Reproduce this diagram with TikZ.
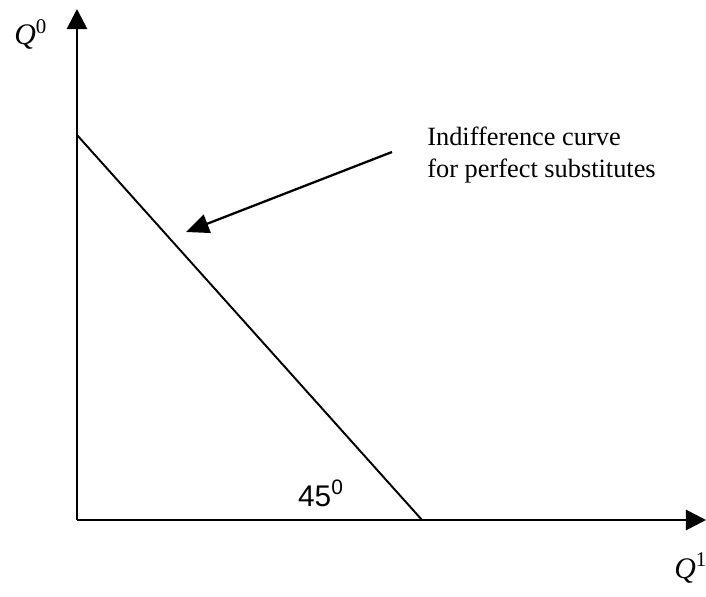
\documentclass[tikz,border=0pt]{standalone}
\usepackage{fontspec}
\setmainfont{Liberation Serif}
\setsansfont{Liberation Sans}
\usepackage{tikz}
\usetikzlibrary{positioning, arrows.meta, calc}

\begin{document}
\begin{tikzpicture}[
        x=0.02cm, y=-0.02cm,
        axis/.style={line width=1.6pt, -{Triangle[length=11.5pt, width=11.5pt]}},
        curve/.style={line width=1.1pt},
        pointer/.style={line width=1.3pt, -{Triangle[length=13pt, width=11pt]}},
        every node/.style={inner sep=0pt}
      ]
      \useasboundingbox (0,0) rectangle (706,597);

      % axes
      \coordinate (O)    at (77, 520);
      \coordinate (ytop) at (77, 9);
      \coordinate (xend) at (706, 520);
      \draw[axis] (O) -- (ytop);
      \draw[axis] (O) -- (xend);

      \node[anchor=base west, font=\fontsize{17}{20}\selectfont] (q0) at (14, 45)  {\textit{Q}\textsuperscript{0}};
      \node[anchor=base west, font=\fontsize{17}{20}\selectfont] (q1) at (674, 578) {\textit{Q}\textsuperscript{1}};

      % indifference line
      \coordinate (A) at (77, 135);
      \coordinate (B) at (422, 520);
      \draw[curve] (A) -- (B);

      \node[anchor=base, font=\sffamily\fontsize{17}{20}\selectfont] (ang) at (321, 506) {45\textsuperscript{0}};

      % label and pointer
      \node[anchor=north west, align=left, font=\fontsize{15}{18}\selectfont] (lbl) at (427, 127)
        {Indifference curve\\for perfect substitutes};
      \coordinate (p) at (392, 152);
      \coordinate (t) at (186, 232);
      \draw[pointer] (p) -- (t);
    \end{tikzpicture}
\end{document}
